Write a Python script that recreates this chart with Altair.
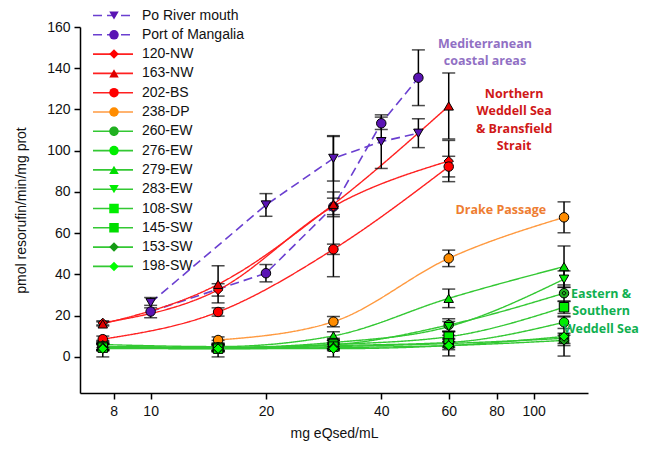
import altair as alt
import pandas as pd

# ---------------- data ----------------
series_names = ["Po River mouth", "Port of Mangalia", "120-NW", "163-NW", "202-BS",
                "238-DP", "260-EW", "276-EW", "279-EW", "283-EW",
                "108-SW", "145-SW", "153-SW", "198-SW"]

conc_po = [10, 20, 30, 40, 50]
po_y = [26.3, 73.7, 96.3, 104.4, 108.5]
po_err = [2.5, 5.5, 11.0, 13.0, 7.0]

conc_ma = [10, 20, 30, 40, 50]
ma_y = [22.0, 40.6, 72.9, 113.3, 135.4]
ma_err = [3.0, 4.2, 34.0, 3.0, 13.5]

conc_nw = [7.5, 15, 30, 60]
nw120_y = [16.5, 32.5, 73.0, 95.0]
nw120_err = [1.0, 3.0, 4.0, 10.0]
nw163_y = [16.0, 35.2, 74.0, 121.7]
nw163_err = [1.0, 9.0, 6.0, 16.0]
bs202_y = [8.6, 21.8, 52.2, 92.3]
bs202_err = [1.5, 2.0, 2.5, 5.0]

conc_dp = [15, 30, 60, 120]
dp238_y = [8.2, 17.1, 47.8, 67.7]
dp238_err = [1.5, 2.5, 4.0, 7.5]

conc_ant = [7.5, 15, 30, 60, 120]
ew260_y = [5.0, 4.5, 6.0, 15.5, 30.9]
ew260_err = [1.5, 1.5, 2.0, 3.0, 4.0]
ew276_y = [5.0, 4.5, 5.5, 7.0, 16.8]
ew276_err = [1.5, 1.5, 1.5, 2.0, 3.0]
ew279_y = [6.0, 5.0, 10.2, 28.4, 43.8]
ew279_err = [1.5, 1.5, 2.0, 4.5, 10.0]
ew283_y = [5.0, 4.5, 7.0, 14.7, 37.7]
ew283_err = [1.5, 1.5, 2.0, 2.5, 4.0]
sw108_y = [5.0, 4.5, 6.0, 9.8, 24.1]
sw108_err = [1.5, 1.5, 2.0, 2.5, 3.0]
sw145_y = [4.5, 4.0, 5.0, 6.5, 9.0]
sw145_err = [1.5, 1.5, 1.5, 2.0, 2.5]
sw153_y = [4.5, 4.0, 4.5, 5.5, 8.0]
sw153_err = [1.5, 1.5, 1.5, 2.0, 2.5]
sw198_y = [4.0, 4.0, 4.0, 5.5, 9.9]
sw198_err = [4.0, 4.0, 4.0, 5.0, 9.5]

line_colors = ["#6a3fd0", "#6a3fd0", "#ff2020", "#ff2020", "#ff2020", "#ff9a40",
               "#33c833", "#33c833", "#33c833", "#33c833", "#33c833", "#33c833", "#33c833", "#33c833"]
fill_colors = ["#5a14b4", "#5a14b4", "#ff0000", "#e00000", "#ff0000", "#ff8c00",
               "#20b020", "#00ee00", "#00dd00", "#00ee00", "#00ee00", "#00dd00", "#149a14", "#00ff00"]
dashes = [[9, 5], [9, 5]] + [[1, 0]] * 12
circle_dot = "M-1,0A1,1 0 1,0 1,0A1,1 0 1,0 -1,0Z M-0.35,0A0.35,0.35 0 1,0 0.35,0A0.35,0.35 0 1,0 -0.35,0Z"
square_plus = "M-1,-1H1V1H-1Z M0,-1V1 M-1,0H1"
shapes = ["triangle-down", "circle", "diamond", "triangle-up", "circle", "circle",
          circle_dot, "circle", "triangle-up", "triangle-down", "square", square_plus,
          "diamond", "diamond"]

ann_text = [["Mediterranean", "coastal areas"],
            ["Northern", "Weddell Sea", "& Bransfield", "Strait"],
            ["Drake Passage"],
            ["Eastern &", "Southern", "Weddell Sea"]]
ann_x = [74.6, 88.9, 82.1, 150.0]
ann_y = [154.7, 130.5, 74.3, 33.5]
ann_color = ["#9170c4", "#d01818", "#ee7d31", "#10b050"]

# ---------------- build table ----------------
groups = [
    ("Po River mouth", conc_po, po_y, po_err, "linear"),
    ("Port of Mangalia", conc_ma, ma_y, ma_err, "linear"),
    ("120-NW", conc_nw, nw120_y, nw120_err, "monotone"),
    ("163-NW", conc_nw, nw163_y, nw163_err, "monotone"),
    ("202-BS", conc_nw, bs202_y, bs202_err, "monotone"),
    ("238-DP", conc_dp, dp238_y, dp238_err, "monotone"),
    ("260-EW", conc_ant, ew260_y, ew260_err, "monotone"),
    ("276-EW", conc_ant, ew276_y, ew276_err, "monotone"),
    ("279-EW", conc_ant, ew279_y, ew279_err, "monotone"),
    ("283-EW", conc_ant, ew283_y, ew283_err, "monotone"),
    ("108-SW", conc_ant, sw108_y, sw108_err, "monotone"),
    ("145-SW", conc_ant, sw145_y, sw145_err, "monotone"),
    ("153-SW", conc_ant, sw153_y, sw153_err, "monotone"),
    ("198-SW", conc_ant, sw198_y, sw198_err, "monotone"),
]
marker_names = [n + " " for n in series_names]   # separate (unlabelled) marker legend
rows = []
for name, xs, ys, es, interp in groups:
    for x, y, e in zip(xs, ys, es):
        rows.append({"series": name, "sample": name + " ", "conc": x, "act": y,
                     "lo": y - e, "hi": y + e, "interp": interp})
df = pd.DataFrame(rows)

ann_df = pd.DataFrame({"label": ann_text, "x": ann_x, "y": ann_y, "color": ann_color})

x_scale = alt.Scale(type="log", domain=[6.54, 138.6], nice=False)
y_scale = alt.Scale(domain=[-17.5, 160], nice=False, zero=False)

X = alt.X("conc:Q", scale=x_scale,
          axis=alt.Axis(values=[8, 10, 20, 40, 60, 80, 100], title="mg eQsed/mL",
                        grid=False, titlePadding=8, labelPadding=5))
Y = alt.Y("act:Q", scale=y_scale,
          axis=alt.Axis(values=[0, 20, 40, 60, 80, 100, 120, 140, 160],
                        title="pmol resorufin/min/mg prot", grid=False, titlePadding=18))

base = alt.Chart(df)

line_legend = alt.Legend(title=None, orient="none", legendX=12, legendY=-18,
                         symbolType="stroke", symbolSize=1600, symbolStrokeWidth=1.6,
                         clipHeight=13, rowPadding=4.3, labelFontSize=14,
                         labelFont="Liberation Sans", labelColor="#111111", labelOffset=8,
                         labelLimit=200)
point_legend = alt.Legend(title=None, orient="none", legendX=27, legendY=-18,
                          symbolSize=90, clipHeight=13, rowPadding=4.3, labelFontSize=14,
                          labelExpr="''", symbolOpacity=1,
                          symbolStrokeColor="black", symbolStrokeWidth=1)

stroke_enc = alt.Stroke("series:N", scale=alt.Scale(domain=series_names, range=line_colors),
                        legend=line_legend)
dash_enc = alt.StrokeDash("series:N", scale=alt.Scale(domain=series_names, range=dashes),
                          legend=line_legend)

lines_lin = base.transform_filter(alt.datum.interp == "linear").mark_line(
    interpolate="linear", strokeWidth=1.6).encode(x=X, y=Y, stroke=stroke_enc, strokeDash=dash_enc)
lines_mono = base.transform_filter(alt.datum.interp == "monotone").mark_line(
    interpolate="monotone", strokeWidth=1.4).encode(x=X, y=Y, stroke=stroke_enc, strokeDash=dash_enc)

err_rule = base.mark_rule(color="black", strokeWidth=1.5).encode(
    x="conc:Q", y=alt.Y("lo:Q"), y2="hi:Q")
cap_lo = base.mark_tick(color="black", thickness=1.5, size=13, orient="horizontal").encode(
    x="conc:Q", y="lo:Q")
cap_hi = base.mark_tick(color="black", thickness=1.5, size=13, orient="horizontal").encode(
    x="conc:Q", y="hi:Q")

points = base.mark_point(filled=True, size=90, stroke="black", strokeWidth=1, opacity=1).encode(
    x="conc:Q", y="act:Q",
    fill=alt.Fill("sample:N", scale=alt.Scale(domain=marker_names, range=fill_colors), legend=point_legend),
    shape=alt.Shape("sample:N", scale=alt.Scale(domain=marker_names, range=shapes), legend=point_legend),
)

ann = alt.Chart(ann_df).mark_text(font="Open Sans", fontWeight="bold", fontSize=12.5,
                                  lineHeight=17.5, align="center", baseline="top").encode(
    x=alt.X("x:Q"), y=alt.Y("y:Q"), text="label", color=alt.Color("color:N", scale=None))

chart = alt.layer(lines_lin, lines_mono, err_rule, cap_lo, cap_hi, points, ann).properties(
    width=508, height=366,
    autosize=alt.AutoSizeParams(type="none"),
    padding={"left": 72, "top": 19, "right": 53, "bottom": 53},
).configure_view(stroke=None).configure_axis(
    domainColor="black", tickColor="black", labelColor="#111111", titleColor="#111111",
    labelFont="Liberation Sans", titleFont="Liberation Sans", labelFontSize=14, titleFontSize=14,
    titleFontWeight="normal", domainWidth=1.5, tickWidth=1.5, tickSize=6, labelPadding=4,
)

chart.save("out.html", embed_options={"renderer": "svg", "actions": False})
